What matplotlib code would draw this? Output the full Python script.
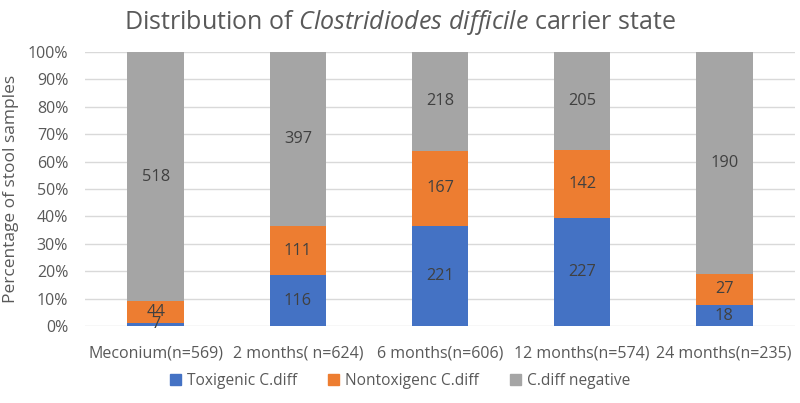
import matplotlib
matplotlib.use("Agg")
import matplotlib.pyplot as plt
import numpy as np

categories = ["Meconium(n=569)", "2 months( n=624)", "6 months(n=606)", "12 months(n=574)", "24 months(n=235)"]
toxigenic = [7, 116, 221, 227, 18]
nontoxigenic = [44, 111, 167, 142, 27]
negative = [518, 397, 218, 205, 190]
series_names = ["Toxigenic C.diff", "Nontoxigenc C.diff", "C.diff negative"]
colors = ["#4472C4", "#ED7D31", "#A5A5A5"]

plt.rcParams['font.family'] = ['Open Sans', 'DejaVu Sans']
plt.rcParams['mathtext.fontset'] = 'custom'
plt.rcParams['mathtext.rm'] = 'Open Sans'
plt.rcParams['mathtext.it'] = 'Open Sans:italic'

fig = plt.figure(figsize=(8, 4.03), dpi=100)
ax = fig.add_axes([0.106, 0.191, 0.888, 0.680])

data = np.array([toxigenic, nontoxigenic, negative], dtype=float)
totals = data.sum(axis=0)
pct = data / totals * 100
x = np.arange(len(categories))
bottom = np.zeros(len(categories))
for i in range(3):
    ax.bar(x, pct[i], 0.4, bottom=bottom, color=colors[i], label=series_names[i], zorder=3)
    for j in range(len(categories)):
        ax.text(x[j], bottom[j] + pct[i][j] / 2, str(int(data[i][j])), ha='center', va='center',
                fontsize=11.8, color='#404040', zorder=4)
    bottom += pct[i]

ax.set_xlim(-0.5, len(categories) - 0.5)
ax.set_ylim(0, 100)
ax.set_yticks(np.arange(0, 101, 10))
ax.set_yticklabels([f"{v}%" for v in range(0, 101, 10)])
ax.set_xticks(x)
ax.set_xticklabels(categories)
ax.grid(axis='y', color='#D9D9D9', linewidth=1, zorder=0)
for s in ax.spines.values():
    s.set_visible(False)
ax.tick_params(axis='both', length=0, labelsize=11.5, labelcolor='#595959')
ax.tick_params(axis='x', pad=14)
ax.tick_params(axis='y', pad=12)
ax.set_ylabel("Percentage of stool samples", fontsize=12.5, color='#595959', labelpad=6)

fig.text(0.5, 0.943, r"Distribution of $\mathit{Clostridiodes\ difficile}$ carrier state",
         ha='center', va='center', fontsize=18, color='#595959')

handles = [plt.Rectangle((0, 0), 1, 1, color=c) for c in colors]
fig.legend(handles, series_names, loc='center', bbox_to_anchor=(0.5, 0.055), ncol=3, frameon=False,
           fontsize=11.2, labelcolor='#595959', handlelength=0.7, handleheight=0.7,
           columnspacing=2.0, handletextpad=0.4)

fig.savefig("out.png", dpi=100)
